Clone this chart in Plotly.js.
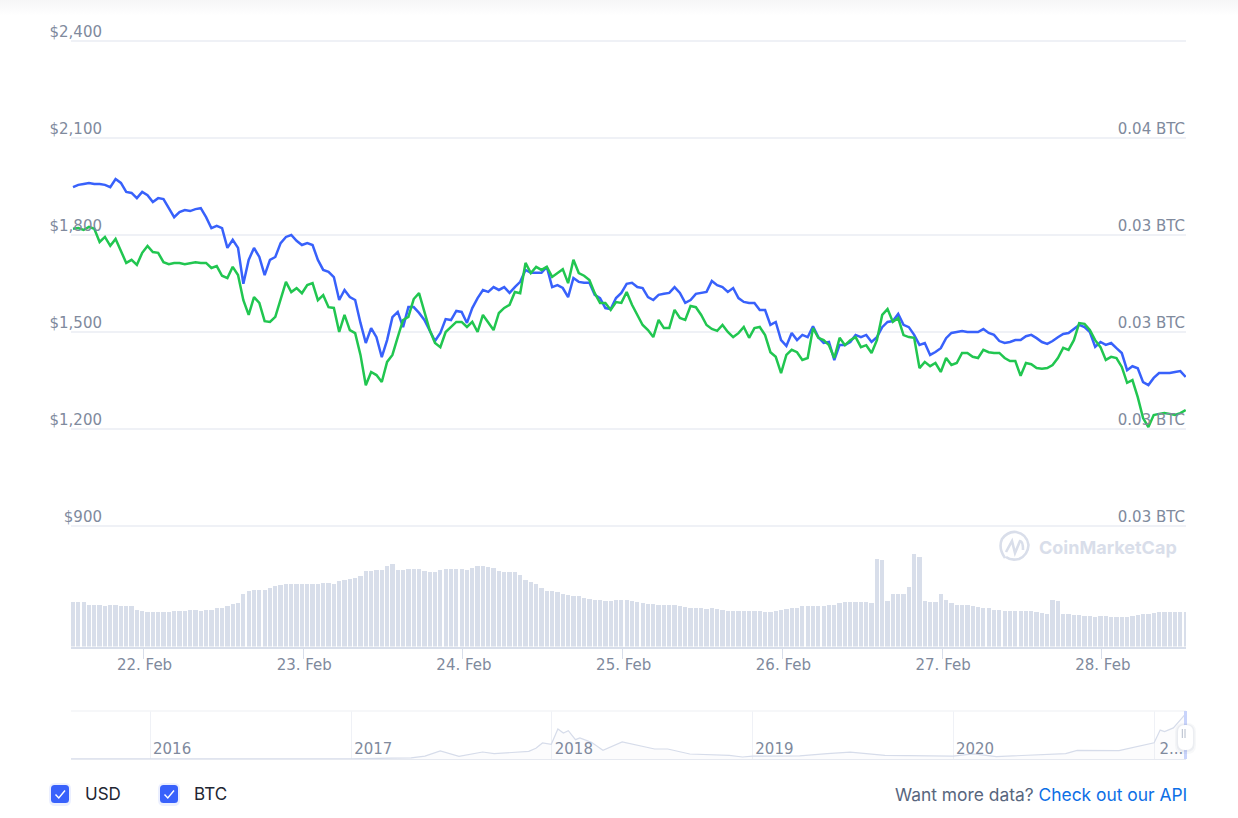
<!DOCTYPE html>
<html><head><meta charset="utf-8">
<script src="https://cdn.plot.ly/plotly-3.0.1.min.js"></script>
<style>html,body{margin:0;padding:0;background:linear-gradient(#f6f6f7 0,#ffffff 16px);}#c{width:1238px;height:818px;}</style>
</head><body><div id="c"></div>
<script>
// Series share a 48-minute sampling grid starting at seriesStart.
const seriesStart = "2021-02-21 13:24";
const stepMs = 2880000;
const usdPrice = [1948,1955,1958,1961,1958,1958,1955,1948,1973,1961,1933,1930,1914,1933,1923,1902,1914,1911,1883,1855,1871,1877,1874,1880,1883,1855,1821,1828,1821,1760,1785,1760,1649,1723,1760,1732,1676,1723,1732,1775,1794,1800,1782,1769,1775,1769,1723,1692,1686,1670,1599,1630,1608,1599,1528,1466,1512,1484,1422,1475,1546,1562,1515,1577,1577,1559,1537,1506,1472,1497,1540,1537,1565,1562,1528,1574,1605,1630,1624,1639,1630,1639,1621,1639,1655,1692,1683,1683,1683,1701,1639,1645,1636,1608,1667,1655,1652,1652,1615,1605,1574,1571,1605,1621,1649,1652,1639,1636,1608,1599,1615,1618,1621,1639,1621,1590,1599,1618,1621,1624,1658,1645,1639,1624,1636,1605,1593,1590,1590,1568,1568,1522,1531,1475,1457,1497,1475,1491,1484,1518,1484,1466,1469,1413,1460,1460,1469,1491,1484,1491,1469,1484,1515,1531,1534,1556,1522,1515,1491,1460,1466,1429,1438,1450,1481,1497,1500,1503,1500,1500,1500,1509,1497,1491,1472,1466,1469,1475,1475,1487,1491,1481,1469,1463,1472,1484,1494,1497,1509,1522,1515,1500,1454,1469,1460,1466,1450,1435,1382,1394,1388,1345,1336,1358,1373,1373,1373,1376,1379,1361];
const btcPrice = [.03266,.03268,.03263,.03271,.03266,.03232,.03245,.03222,.03240,.03211,.03178,.03186,.03173,.03204,.03222,.03206,.03204,.03180,.03175,.03178,.03178,.03175,.03178,.03180,.03178,.03178,.03165,.03170,.03145,.03139,.03168,.03147,.03082,.03044,.03090,.03075,.03028,.03026,.03039,.03082,.03129,.03103,.03113,.03100,.03121,.03126,.03082,.03095,.03064,.03062,.03000,.03044,.03005,.02997,.02941,.02863,.02897,.02889,.02871,.02923,.02941,.02987,.03031,.03039,.03085,.03100,.03052,.03005,.02972,.02961,.03000,.03013,.03026,.03026,.03013,.03026,.03000,.03044,.03023,.03005,.03049,.03062,.03070,.03103,.03100,.03178,.03152,.03168,.03160,.03168,.03142,.03152,.03162,.03126,.03186,.03152,.03145,.03134,.03100,.03075,.03075,.03057,.03077,.03075,.03103,.03070,.03044,.03018,.03005,.02987,.03031,.03010,.03010,.03057,.03036,.03031,.03067,.03064,.03044,.03018,.03008,.03003,.03018,.03000,.02987,.02997,.03013,.02985,.03010,.03013,.02992,.02948,.02936,.02894,.02941,.02954,.02948,.02928,.02933,.03010,.02985,.02979,.02966,.02933,.02985,.02966,.02979,.02987,.02961,.02966,.02946,.02979,.03044,.03059,.03026,.03036,.02992,.02987,.02985,.02907,.02923,.02912,.02920,.02897,.02933,.02915,.02920,.02946,.02946,.02936,.02933,.02954,.02948,.02946,.02946,.02933,.02925,.02925,.02887,.02920,.02917,.02907,.02905,.02907,.02915,.02933,.02959,.02954,.02979,.03023,.03021,.03005,.02979,.02961,.02928,.02936,.02933,.02910,.02869,.02876,.02832,.02778,.02755,.02786,.02789,.02791,.02789,.02786,.02791,.02799];
const volumeBn = [26.6,26.6,26.6,25.2,25.2,25.2,24.2,24.8,25.2,24.6,24.4,24.2,22.2,21.2,20.6,20.6,20.6,20.6,20.6,21.2,21.4,21.4,21.8,22.2,21.4,21.8,22.2,23.4,23.4,24.6,25.4,26.2,31.8,33.6,34.2,34.2,34.2,35.4,36.2,37,37.8,37.8,37.8,37.8,37.8,37.8,37.8,38.2,38.2,37.8,39.2,40.2,40.6,41,42.6,45.2,45.6,45.8,45.8,48.6,49.8,46.2,46.2,46.6,46.6,46.6,45.4,44.8,44.6,45.8,46.6,46.6,46.6,46.6,46.2,47.4,48.6,48.2,47.8,47.2,45.6,44.8,44.8,44.6,43.2,39.8,38.6,37.6,35.2,33.6,33.2,32.6,31.4,31,30.6,30.2,29.4,28.8,28.2,27.8,27.4,27.6,28.2,28.2,27.8,27.4,26.6,26.2,25.8,25.4,25,25,25,25,24.2,23.6,23.4,23.4,23,22.8,23.2,22.6,22.2,21.4,21.4,21.4,21.4,21.4,21.4,21.4,20.6,21,21.4,21.8,22.6,23.4,23.4,24.2,24.2,24.2,24.2,24.6,25,25,26.2,26.6,26.6,26.6,26.6,26.8,26.4,52.6,52.2,27.2,31.8,31.8,31.4,35.6,55.4,53.6,27.2,26.6,26.6,31.8,28.2,26.2,25.2,25,25,24.2,23.8,23.4,23,22.2,21.8,21.4,21.4,21.4,21.4,21.4,21.4,20.6,20.2,19.8,28.2,27.6,19.8,19.8,19,19,18.2,18.2,17.8,18.2,18.2,17.6,17.6,17.6,17.8,18.6,19.2,19.8,19.8,20.2,20.6,20.6,20.6,20.6,20.6,20.6];
const navDates = ["2015-08-07","2016-01-01","2016-06-15","2017-01-01","2017-03-15","2017-04-20","2017-05-15","2017-06-12","2017-07-16","2017-08-28","2017-09-18","2017-11-20","2017-12-03","2017-12-15","2017-12-31","2018-01-12","2018-01-22","2018-01-31","2018-02-13","2018-02-21","2018-03-14","2018-04-04","2018-05-09","2018-06-11","2018-07-07","2018-07-31","2018-09-09","2018-11-20","2018-12-14","2019-01-01","2019-03-28","2019-05-17","2019-06-28","2019-08-30","2020-01-01","2020-02-07","2020-03-20","2020-07-24","2020-08-14","2020-10-29","2021-01-01","2021-01-12","2021-01-20","2021-02-05","2021-02-28"];
const navPrice = [2,1,14,8,35,50,130,360,120,315,240,345,480,720,660,1350,1170,1275,870,945,750,390,765,570,450,450,225,165,90,130,140,240,310,165,130,230,110,240,390,380,730,1300,1230,1400,2050];
const usdTicks = [900,1200,1500,1800,2100,2400];
const usdLabels = ["$900","$1,200","$1,500","$1,800","$2,100","$2,400"];
const btcTicks = [0.025,0.0275,0.03,0.0325,0.035,0.0375];
const btcLabels = ["0.03 BTC","0.03 BTC","0.03 BTC","0.03 BTC","0.04 BTC","0.04 BTC"];
const navYearTicks = ["2016-01-01","2017-01-01","2018-01-01","2019-01-01","2020-01-01","2021-01-01"];
const navYearLabels = ["2016","2017","2018","2019","2020","2...\u00a0\u00a0"];

const W = 1238, H = 818;
const X = x => x / W, Y = y => 1 - y / H;
const tickFont = {family:"'DejaVu Sans', sans-serif", size:15, color:"#808a9d"};
const gridCol = "#eff1f6";
const P = (x,y) => `${X(x)},${Y(y)}`;
const rrect = (x0,y0,x1,y1,r) => `M${P(x0+r,y0)}L${P(x1-r,y0)}Q${P(x1,y0)} ${P(x1,y0+r)}L${P(x1,y1-r)}Q${P(x1,y1)} ${P(x1-r,y1)}L${P(x0+r,y1)}Q${P(x0,y1)} ${P(x0,y1-r)}L${P(x0,y0+r)}Q${P(x0,y0)} ${P(x0+r,y0)}Z`;
const sh = (path,fill,line,w) => ({type:"path",xref:"paper",yref:"paper",path,fillcolor:fill||"rgba(0,0,0,0)",line:{color:line||"rgba(0,0,0,0)",width:w||0}});

const traces = [
 {type:"bar",name:"Volume",x0:seriesStart,dx:stepMs,y:volumeBn,xaxis:"x",yaxis:"y2",width:stepMs*0.8,marker:{color:"#d8deea",line:{width:0}},hoverinfo:"skip"},
 {type:"scatter",mode:"lines",name:"USD",x0:seriesStart,dx:stepMs,y:usdPrice,xaxis:"x",yaxis:"y",line:{color:"#3861fb",width:2.5}},
 {type:"scatter",mode:"lines",name:"BTC",x0:seriesStart,dx:stepMs,y:btcPrice,xaxis:"x",yaxis:"y4",line:{color:"#21c650",width:2.5}},
 {type:"scatter",mode:"lines",name:"All time",x:navDates,y:navPrice,xaxis:"x2",yaxis:"y3",line:{color:"#d6dcea",width:1.2},fill:"tozeroy",fillcolor:"rgba(216,222,234,0.08)"}
];

const checkbox = x => [
  sh(rrect(x-2,783,x+20,806,6),"rgba(56,97,251,0.10)"),
  sh(rrect(x,785,x+18,803,3.5),"#3861fb"),
  sh(`M${P(x+4.5,794.5)}L${P(x+7.8,798)}L${P(x+14,790.5)}`,null,"#ffffff",1.4)
];

const layout = {
  width:W,height:H,margin:{l:0,r:0,t:0,b:0},showlegend:false,bargap:0,
  paper_bgcolor:"rgba(0,0,0,0)",plot_bgcolor:"rgba(0,0,0,0)",
  xaxis:{domain:[X(71),X(1186)],anchor:"y2",type:"date",range:["2021-02-21 13:06","2021-02-28 12:39"],
    tick0:"2021-02-22",dtick:86400000,tickformat:"%-d. %b",tickfont:tickFont,ticks:"outside",ticklen:10,tickwidth:1,tickcolor:"#d8deea",
    ticklabelstandoff:-7,ticklabelshift:1,showgrid:false,showline:true,linecolor:"#d8deea",linewidth:2,zeroline:false},
  yaxis:{domain:[Y(527),Y(30)],range:[896.9,2434],anchor:"x",tickmode:"array",tickvals:usdTicks,ticktext:usdLabels,tickfont:tickFont,
    gridcolor:gridCol,gridwidth:1.2,zeroline:false,showline:false,ticks:"",ticklabelstandoff:-32,ticklabelshift:-9},
  yaxis2:{domain:[Y(646.5),Y(526.5)],range:[0,72],anchor:"x",visible:false},
  yaxis4:{domain:[Y(527),Y(30)],range:[0.024974,0.037784],overlaying:"y",side:"right",anchor:"x",tickmode:"array",tickvals:btcTicks,ticktext:btcLabels,tickfont:tickFont,
    showgrid:false,zeroline:false,showline:false,ticks:"",ticklabelposition:"inside",ticklabelstandoff:-2,ticklabelshift:-9},
  xaxis2:{domain:[X(71),X(1186)],anchor:"y3",type:"date",range:["2015-08-10","2021-02-28"],tickmode:"array",tickvals:navYearTicks,ticktext:navYearLabels,tickfont:tickFont,
    ticklabelposition:"inside",ticklabeloverflow:"allow",ticklabelshift:22,ticklabelstandoff:2,ticks:"",showgrid:true,gridcolor:"#eff1f6",gridwidth:1,showline:true,linecolor:"#e6e9f0",linewidth:1,zeroline:false},
  yaxis3:{domain:[Y(759),Y(711)],range:[0,2160],anchor:"x2",showticklabels:false,showgrid:false,zeroline:false,ticks:"",showline:false},
  shapes:[
    {type:"line",xref:"paper",yref:"paper",x0:X(71),x1:X(1186),y0:Y(711),y1:Y(711),line:{color:"#f3f4f7",width:1.5}},
    {type:"rect",xref:"paper",yref:"paper",x0:X(1184),x1:X(1187),y0:Y(759),y1:Y(711),fillcolor:"#c9d4fb",line:{width:0}},
    sh(rrect(1175,723,1196,754,9),"rgba(120,130,160,0.06)"),
    sh(rrect(1176.5,724,1194.5,752,8),"rgba(120,130,160,0.08)"),
    sh(rrect(1178,725,1193,750,7),"#ffffff"),
    {type:"line",xref:"paper",yref:"paper",x0:X(1182.3),x1:X(1182.3),y0:Y(729),y1:Y(738),line:{color:"#b4bccb",width:1}},
    {type:"line",xref:"paper",yref:"paper",x0:X(1185),x1:X(1185),y0:Y(729),y1:Y(738),line:{color:"#b4bccb",width:1}},
    ...checkbox(51),...checkbox(160),
    sh(`M${P(1005,558)}Q${P(998,548)} ${P(1002,539)}Q${P(1008,531)} ${P(1016,532)}Q${P(1027,534)} ${P(1028.5,545)}Q${P(1028,555)} ${P(1019,559)}Q${P(1011,561)} ${P(1006,557)}`,null,"#d9deea",2.6),
    sh(`M${P(1006,552)}L${P(1012,541)}L${P(1015,553)}L${P(1020,541)}Q${P(1023,541)} ${P(1023,550)}`,null,"#d9deea",2.6)
  ],
  annotations:[
    {xref:"paper",yref:"paper",x:X(83),y:Y(794),xanchor:"left",yanchor:"middle",showarrow:false,text:"USD",font:{family:"Inter, sans-serif",size:17,color:"#222531"}},
    {xref:"paper",yref:"paper",x:X(192),y:Y(794),xanchor:"left",yanchor:"middle",showarrow:false,text:"BTC",font:{family:"Inter, sans-serif",size:17,color:"#222531"}},
    {xref:"paper",yref:"paper",x:X(1189),y:Y(794),xanchor:"right",yanchor:"middle",showarrow:false,text:'<span style="color:#58667e">Want more data? </span><span style="color:#0d6fe6">Check out our API</span>',font:{family:"Inter, sans-serif",size:17.4}},
    {xref:"paper",yref:"paper",x:X(1036.5),y:Y(547),xanchor:"left",yanchor:"middle",showarrow:false,text:"<b>CoinMarketCap</b>",font:{family:"Inter, sans-serif",size:18,color:"#d9deea"}}
  ]
};
Plotly.newPlot("c",traces,layout,{displayModeBar:false,staticPlot:true});
</script></body></html>
